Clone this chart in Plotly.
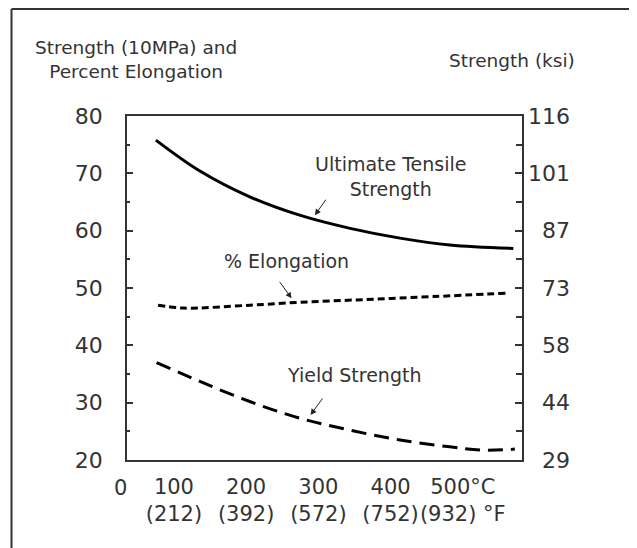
import plotly.graph_objects as go

# ---- data ----
temp_uts = [75, 136, 205, 274, 344, 413, 482, 570]
uts = [75.8, 70.4, 65.9, 62.7, 60.4, 58.7, 57.5, 56.9]

temp_elong = [78, 113, 205, 274, 367, 459, 560]
elong = [47.0, 46.5, 47.0, 47.5, 48.0, 48.5, 49.1]

temp_yield = [76, 136, 205, 274, 344, 413, 482, 528, 572]
yield_s = [37.0, 33.7, 30.2, 27.3, 25.2, 23.5, 22.3, 21.7, 21.9]

x_tickvals = [100, 200, 300, 400, 500]
x_ticktext = ["100<br>(212)", "200<br>(392)", "300<br>(572)", "400<br>(752)", "500°C<br>(932) °F"]

y_major = [20, 30, 40, 50, 60, 70, 80]
y_minor = [25, 35, 45, 55, 65, 75]
ksi_labels = ["29", "44", "58", "73", "87", "101", "116"]

FONT = "DejaVu Sans"
TXT = "#333333"

fig = go.Figure()
fig.add_trace(go.Scatter(x=temp_uts, y=uts, mode="lines", line=dict(color="black", width=3, shape="spline"), showlegend=False))
fig.add_trace(go.Scatter(x=temp_elong, y=elong, mode="lines", line=dict(color="black", width=3, dash="7px,4px", shape="spline"), showlegend=False))
fig.add_trace(go.Scatter(x=temp_yield, y=yield_s, mode="lines", line=dict(color="black", width=3, dash="15px,8px", shape="spline"), showlegend=False))
# invisible trace on right axis
fig.add_trace(go.Scatter(x=[temp_uts[0]], y=[uts[0]], yaxis="y2", mode="markers", marker=dict(opacity=0), showlegend=False, hoverinfo="skip"))

fig.update_layout(
    width=637, height=548,
    margin=dict(l=119, r=123, t=108, b=96),
    paper_bgcolor="white", plot_bgcolor="white",
    font=dict(family=FONT, color=TXT),
    xaxis=dict(range=[35, 582], showgrid=False, zeroline=False, showline=True, linecolor="#333", linewidth=1.5,
               mirror=True, tickmode="array", tickvals=x_tickvals, ticktext=x_ticktext, ticks="", tickangle=0,
               automargin=False, tickfont=dict(size=21, color=TXT), ticklabelstandoff=7),
    yaxis=dict(range=[20, 80], showgrid=False, zeroline=False, showline=True, linecolor="#333", linewidth=1.5,
               mirror=True, tickmode="array", tickvals=y_major, ticks="inside", ticklen=6, tickwidth=1.5, tickcolor="#333",
               automargin=False, tickfont=dict(size=22, color=TXT), ticklabelstandoff=18,
               minor=dict(tickmode="array", tickvals=y_minor, ticks="inside", ticklen=3, tickwidth=1.5, tickcolor="#333")),
    yaxis2=dict(range=[20, 80], overlaying="y", side="right", showgrid=False, zeroline=False, showline=False,
                tickmode="array", tickvals=y_major, ticks="inside", ticklen=7, tickwidth=1.5, tickcolor="#333",
                showticklabels=False, automargin=False,
                minor=dict(tickmode="array", tickvals=y_minor, ticks="inside", ticklen=6, tickwidth=1.5, tickcolor="#333")),
)

# right axis labels (right-aligned)
for v, t in zip(y_major, ksi_labels):
    fig.add_annotation(x=1.1266, xref="paper", y=v, yref="y", text=t, showarrow=False,
                       xanchor="right", yanchor="middle", font=dict(size=22, color=TXT))

# "0" label on x axis
fig.add_annotation(x=-0.0177, xref="paper", y=-0.0814, yref="paper", text="0", showarrow=False,
                   xanchor="center", yanchor="middle", font=dict(size=21, color=TXT))

# axis titles
fig.add_annotation(x=0.0228, xref="paper", y=1.1628, yref="paper", text="Strength (10MPa) and<br>Percent Elongation",
                   showarrow=False, xanchor="center", yanchor="middle", align="center", font=dict(size=18.5, color=TXT))
fig.add_annotation(x=0.9747, xref="paper", y=1.16, yref="paper", text="Strength (ksi)",
                   showarrow=False, xanchor="center", yanchor="middle", font=dict(size=18.5, color=TXT))

# curve labels
fig.add_annotation(x=401, y=69.5, text="Ultimate Tensile<br>Strength", showarrow=False, font=dict(size=19, color=TXT))
fig.add_annotation(x=256, y=54.7, text="% Elongation", showarrow=False, font=dict(size=19, color=TXT))
fig.add_annotation(x=350, y=34.8, text="Yield Strength", showarrow=False, font=dict(size=19, color=TXT))

# arrows
for hx, hy, ax, ay in [(295.2, 62.7, 12, -17), (262.9, 48.2, -13, -18), (289.2, 27.85, 13, -18)]:
    fig.add_annotation(x=hx, y=hy, ax=ax, ay=ay, text="", showarrow=True, arrowhead=2, arrowsize=1.2,
                       arrowwidth=1, arrowcolor="#222", standoff=0, startstandoff=0)

# outer frame
fig.add_shape(type="line", xref="paper", yref="paper", x0=-0.2924, x1=-0.2924, y0=1.311, y1=-0.35, line=dict(color="#333", width=2))
fig.add_shape(type="line", xref="paper", yref="paper", x0=-0.2924, x1=1.309, y0=1.311, y1=1.311, line=dict(color="#333", width=2))
fig.add_shape(type="line", xref="paper", yref="paper", x0=1.309, x1=1.309, y0=1.311, y1=-0.35, line=dict(color="#bbbbbb", width=1.5))

fig.write_html("out.html")
